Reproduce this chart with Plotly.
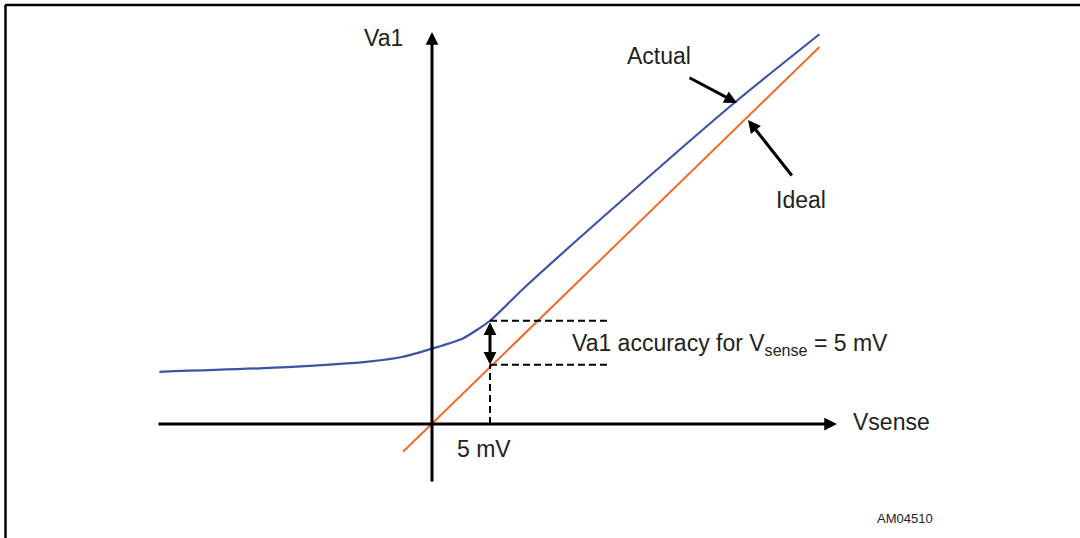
"""Va1 versus Vsense: actual and ideal transfer curves."""

import plotly.graph_objects as go

# Data (arbitrary units, 1 unit ~ 1 mV on the Vsense axis)
ACTUAL_X = [-23.5, -12.5, -5.3, -2.5, 0.0, 2.7, 5.0, 7.8, 14.7, 26.2, 33.4]
ACTUAL_Y = [4.5, 4.9, 5.4, 5.8, 6.5, 7.4, 8.9, 11.6, 17.8, 27.8, 33.6]
IDEAL_X = [-2.5, 33.4]
IDEAL_Y = [-2.4, 32.5]
VSENSE_MARK = 5.0
ACTUAL_AT_MARK = 8.9
IDEAL_AT_MARK = 5.1
DASH_END_X = 15.1

W, H = 1080, 538
ORIGIN_PX = (432, 424)
SCALE = 11.6  # px per unit

BLUE = "#3b54a5"
ORANGE = "#f26a26"
TEXT = "#222222"
FONT = "Liberation Sans, Arial, Helvetica, sans-serif"


def px(x, y):
    """Convert a pixel position to data coordinates."""
    return (x - ORIGIN_PX[0]) / SCALE, (ORIGIN_PX[1] - y) / SCALE


fig = go.Figure()

fig.add_trace(
    go.Scatter(
        x=ACTUAL_X, y=ACTUAL_Y, mode="lines",
        line=dict(color=BLUE, width=2.2, shape="spline", smoothing=0.6),
        hoverinfo="skip",
    )
)
fig.add_trace(
    go.Scatter(
        x=IDEAL_X, y=IDEAL_Y, mode="lines",
        line=dict(color=ORANGE, width=2), hoverinfo="skip",
    )
)

# dashed guide lines at the 5 mV mark
dash = dict(color="black", width=2, dash="7px,4px")
for xs, ys in [
    ([VSENSE_MARK, DASH_END_X], [ACTUAL_AT_MARK, ACTUAL_AT_MARK]),
    ([VSENSE_MARK, DASH_END_X], [IDEAL_AT_MARK, IDEAL_AT_MARK]),
    ([VSENSE_MARK, VSENSE_MARK], [0, IDEAL_AT_MARK]),
]:
    fig.add_trace(go.Scatter(x=xs, y=ys, mode="lines", line=dash, hoverinfo="skip"))


def arrow(tip, tail, both=False):
    fig.add_annotation(
        x=tip[0], y=tip[1], ax=tail[0], ay=tail[1],
        xref="x", yref="y", axref="x", ayref="y",
        text="", showarrow=True, arrowhead=2, arrowsize=0.85, arrowwidth=3,
        arrowcolor="black", startarrowhead=2, startarrowsize=0.85,
        arrowside="end+start" if both else "end",
    )


# axes
arrow(px(837, 424), px(157, 424))
arrow(px(432, 32), px(432, 483))
# pointers
arrow(px(737, 103), px(688, 77))
arrow(px(748, 120), px(793, 177))
# accuracy span
arrow((VSENSE_MARK, IDEAL_AT_MARK), (VSENSE_MARK, ACTUAL_AT_MARK), both=True)


def label(text, pos, size=23, anchor="center"):
    x, y = px(*pos)
    fig.add_annotation(
        x=x, y=y, xref="x", yref="y", text=text, showarrow=False,
        xanchor=anchor, yanchor="middle", font=dict(family=FONT, size=size, color=TEXT),
    )


label("Va1", (383, 38))
label("Actual", (659, 56))
label("Ideal", (801, 200))
label("Vsense", (851, 422), anchor="left")
label("5 mV", (484, 449))
label("Va1 accuracy for V<sub>sense</sub> = 5 mV", (570, 344), anchor="left")
label("AM04510", (905, 518), size=13)

# frame (top and left edges)
fig.add_shape(type="line", xref="paper", yref="paper", x0=5 / W, x1=1.0,
              y0=1 - 5 / H, y1=1 - 5 / H, line=dict(color="black", width=2.5))
fig.add_shape(type="line", xref="paper", yref="paper", x0=5.5 / W, x1=5.5 / W,
              y0=0, y1=1 - 5 / H, line=dict(color="black", width=2.5))

x0, y1 = px(0, 0)
x1, y0 = px(W, H)
fig.update_layout(
    width=W, height=H, margin=dict(l=0, r=0, t=0, b=0),
    paper_bgcolor="white", plot_bgcolor="white", showlegend=False,
    xaxis=dict(range=[x0, x1], visible=False, fixedrange=True),
    yaxis=dict(range=[y0, y1], visible=False, fixedrange=True),
)

# page body has a default margin; drop it so the figure sits at the top-left
fig.write_html(
    "out.html",
    config={"displayModeBar": False},
    post_script="document.body.style.margin='0';",
)
